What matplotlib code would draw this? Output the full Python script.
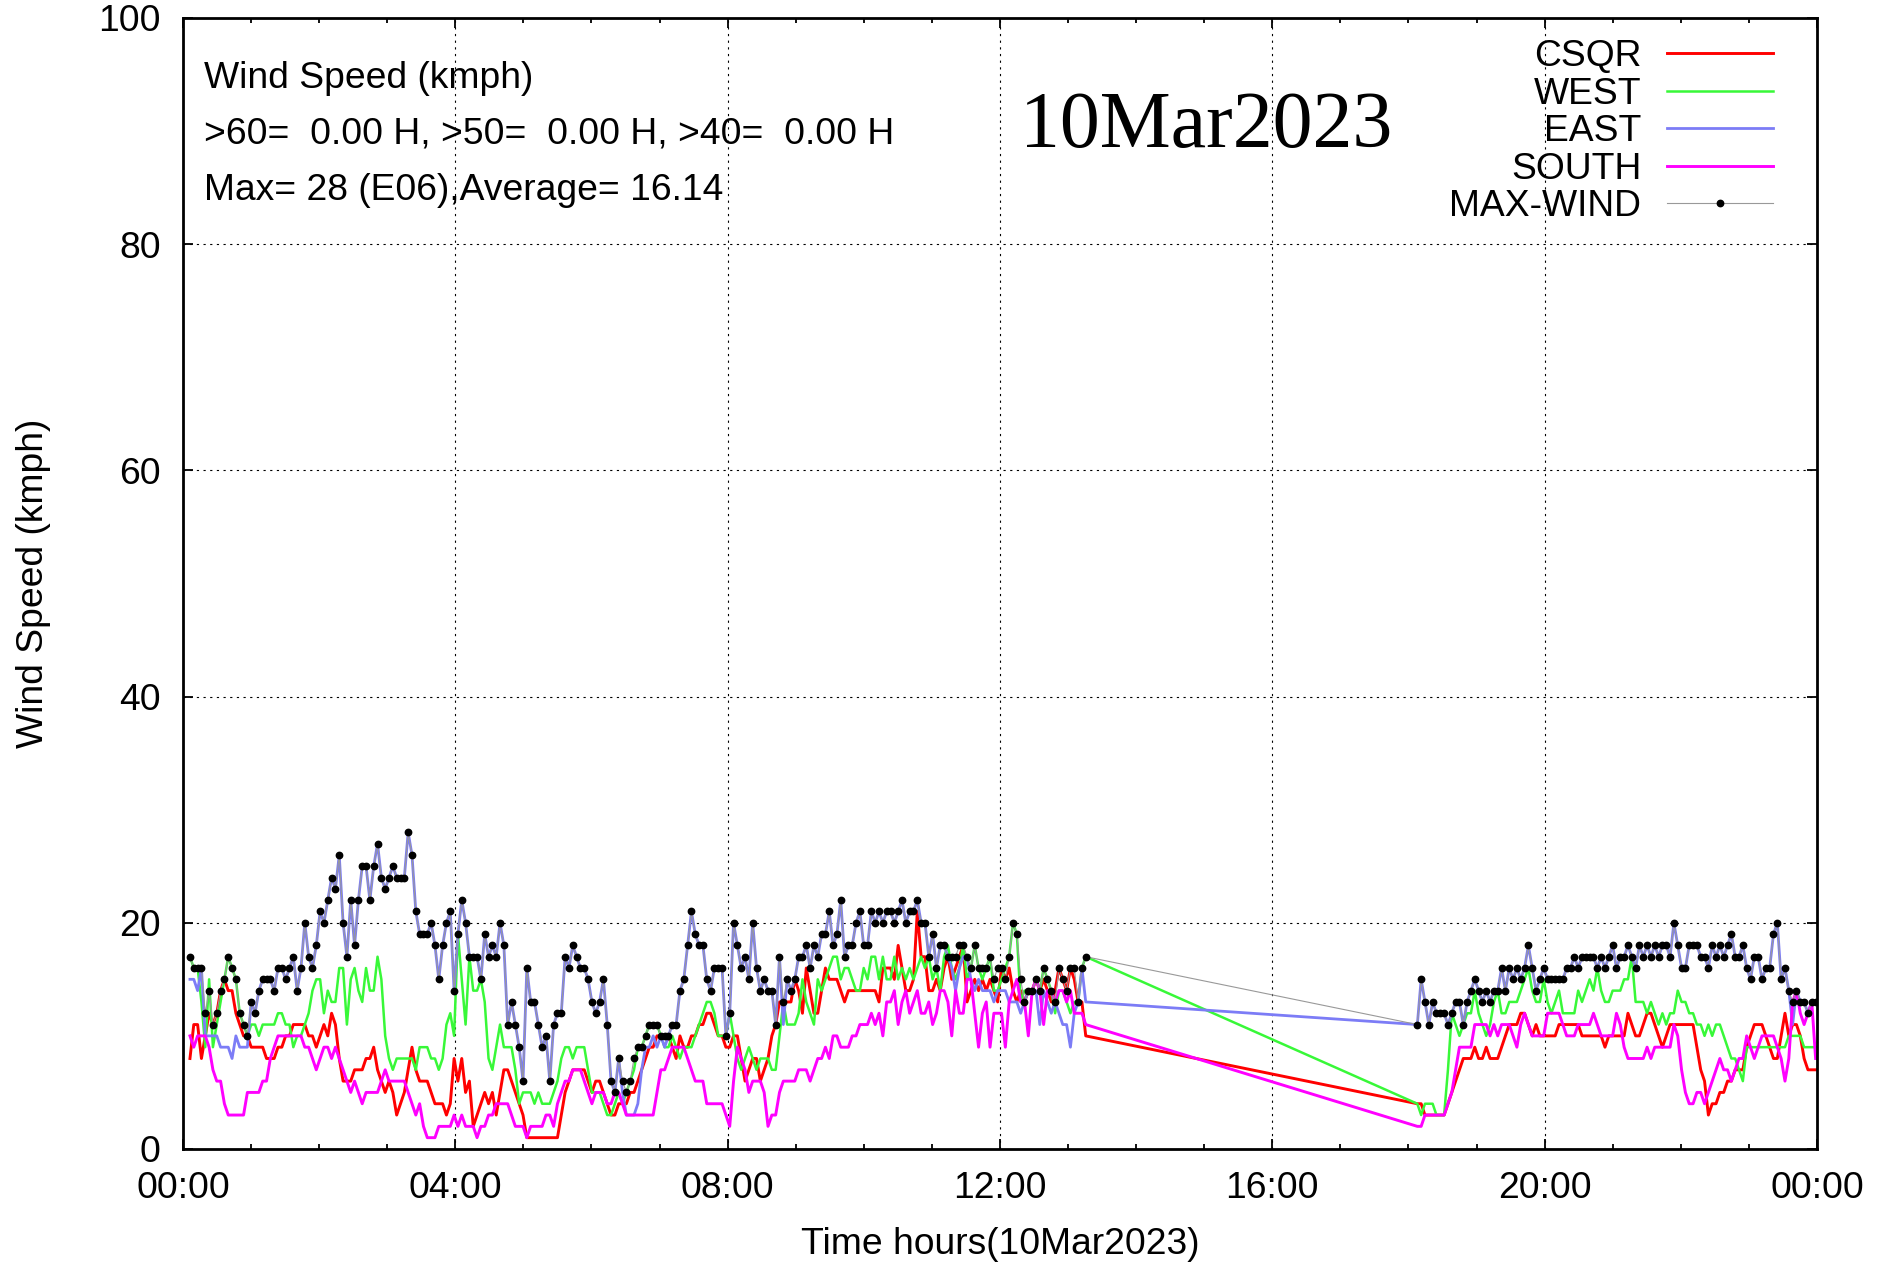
import numpy as np
import matplotlib.pyplot as plt
from matplotlib.ticker import MultipleLocator

# Samples roughly every 3.4 minutes, two blocks (morning until ~13:15, evening from ~18:08)
seg1_start, seg1_end = 0.103, 13.26
seg2_start, seg2_end = 18.13, 23.98

max1 = [17,16,16,16,12,14,11,12,14,15, 17,16,15,12,11,10,13,12,14,15,
        15,15,14,16,16,15,16,17,14,16, 20,17,16,18,21,20,22,24,23,26,
        20,17,22,18,22,25,25,22,25,27, 24,
        23,24,25,24,24,24,28,26,21,19, 19,19,20,18,15,18,20,21,14,19,
        22,20,17,17,17,15,19,17,18,17, 20,18,11,13,11,9,6,16,13,13,
        11,9,10,6,11,12,12,17,16,
        18,17,16,16,15,13,12,13,15,11, 6,5,8,6,5,6,8,9,9,10,
        11,11,11,10,10,10,11,11,14,15, 18,21,19,18,18,15,14,16,16,16,
        10,12,20,18,16,17,15,20,16,
        14,15,14,14,11,17,13,15,14,15, 17,17,18,16,18,17,19,19,21,18,
        19,22,17,18,18,20,21,18,18,21, 20,21,20,21,21,20,21,22,20,21,
        21,22,20,20,17,19,16,18,18,17,
        17,17,18,18,17,16,18,16,16,16, 17,15,16,16,15,17,20,19,15,13,
        14,14,15,14,16,15,14,13,16,15, 14,16,16,13,16,17]
csqr1 = [8,11,11,8,10,12,11,12,14,15, 14,14,12,11,10,10,9,9,9,9,
         8,8,8,9,9,10,10,11,11,11, 11,10,10,9,10,11,10,12,11,8,
         6,6,6,7,7,7,8,8,9,7, 6,
         5,6,5,3,4,5,7,9,7,6, 6,6,5,4,4,4,3,4,8,6,
         8,5,6,2,3,4,5,4,5,3, 5,7,7,6,5,4,3,1,1,1,
         1,1,1,1,1,1,3,5,6,
         7,7,7,7,6,5,6,6,5,4, 3,3,4,4,4,5,5,6,7,8,
         9,9,10,10,10,10,9,8,10,9, 9,10,10,11,11,12,12,11,10,10,
         9,9,10,10,8,6,7,8,8,
         6,7,8,10,11,13,13,13,13,15, 14,12,16,14,12,12,14,16,15,15,
         15,14,13,14,14,14,14,14,14,14, 14,13,16,16,16,15,18,16,14,14,
         15,21,17,17,14,14,15,14,16,17,
         15,16,17,18,13,14,15,14,15,14, 15,14,13,16,15,16,14,13,14,13,
         14,14,15,14,15,14,13,14,16,15, 14,16,15,13,13,10]
west1 = [17,16,16,13,9,15,9,11,13,15, 17,16,15,12,11,10,11,11,10,11,
         11,11,11,12,12,11,11,9,10,10, 11,12,14,15,15,12,14,13,13,16,
         16,11,15,16,14,13,16,14,14,17, 15,
         10,8,7,8,8,8,8,8,7,9, 9,9,8,8,7,8,11,12,10,19,
         15,11,17,14,14,15,13,8,7,9, 11,9,9,9,7,4,5,5,5,4,
         5,4,4,4,5,6,8,9,9,
         8,9,9,9,7,5,5,5,4,3, 3,4,5,4,5,6,7,9,9,10,
         11,11,11,10,9,9,10,9,8,9, 9,9,10,11,12,13,13,12,10,10,
         10,12,10,8,7,8,9,8,7,
         8,8,8,7,7,10,13,11,11,11, 12,15,13,12,11,15,14,15,16,17,
         17,15,16,16,15,14,14,16,15,17, 17,15,17,15,15,17,15,16,15,16,
         15,16,17,16,17,15,16,14,17,18,
         16,15,16,18,15,16,18,16,15,16, 17,14,14,15,16,17,20,19,13,14,
         14,14,15,14,16,15,14,12,14,14, 13,12,13,13,16,17]
east1 = [15,15,14,16,10,10,10,10,9,9, 9,8,10,9,9,9,13,12,14,15,
         15,15,14,16,16,15,16,17,14,16, 20,17,16,18,21,20,22,24,23,26,
         20,17,22,18,22,25,25,22,25,27, 24,
         23,24,25,24,24,24,28,26,21,19, 19,19,20,18,15,18,20,21,14,19,
         22,20,17,17,17,15,19,17,18,17, 20,18,11,13,11,9,6,16,13,13,
         11,9,10,6,11,12,12,17,16,
         18,17,16,16,15,13,12,13,15,11, 6,5,8,5,3,3,3,4,7,9,
         9,10,9,10,9,10,11,11,14,15, 18,21,19,18,18,15,14,16,16,16,
         10,12,20,18,16,17,15,20,16,
         14,15,14,14,11,17,11,15,14,15, 17,17,18,16,18,17,19,19,21,18,
         19,22,17,18,18,20,21,18,18,21, 20,21,20,21,21,20,21,22,20,21,
         21,22,20,20,17,19,16,18,18,17,
         16,14,16,17,17,15,14,15,14,14, 14,13,14,14,14,13,13,13,12,13,
         14,14,14,11,14,13,12,13,12,11, 11,9,12,13,16,13]
south1 = [10,9,10,10,10,9,7,6,6,4, 3,3,3,3,3,5,5,5,5,6,
          6,8,9,10,10,10,10,10,10,10, 9,9,8,7,8,9,9,8,9,8,
          7,6,5,6,5,4,5,5,5,5, 6,
          7,6,6,6,6,6,5,4,3,4, 2,1,1,1,2,2,2,2,3,2,
          3,2,2,2,1,2,2,3,3,4, 4,4,4,3,2,2,2,1,2,2,
          2,2,3,3,2,4,5,6,6,
          7,7,7,6,5,4,5,5,5,4, 4,5,5,4,3,3,3,3,3,3,
          3,3,5,7,7,8,9,9,9,9, 8,7,6,6,6,4,4,4,4,4,
          3,2,6,9,8,7,5,6,6,
          6,5,2,3,3,5,6,6,6,6, 7,7,7,6,7,8,8,9,8,10,
          10,9,9,9,10,10,11,11,11,12, 11,12,10,13,13,14,11,13,14,12,
          13,14,12,12,13,11,12,14,14,13,
          10,14,12,12,15,15,12,9,12,13, 9,12,12,12,9,13,14,15,13,13,
          10,14,15,14,11,14,14,13,14,14, 13,14,12,12,12,11]

max2 = [11,15,13,11,13,12,12,12,11,12, 13,13,11,13,14,15,14,13,14,13,
        14,14,16,14,16,15,16,15,16,18, 16,14,15,16,15,15,15,15,15,16,
        16,17,16,17,17,17,17,16,17,16, 17,18,16,17,
        17,18,17,16,18,17,18,17,18,17, 18,18,17,20,18,16,16,18,18,18,
        17,17,16,18,17,18,17,18,19,17, 17,18,16,15,17,17,15,16,16,19,
        20,15,16,14,13,14,13,13,12,13,13]
csqr2 = [4,4,3,3,3,3,3,3,4,5, 6,7,8,8,8,9,8,8,9,8,
         8,8,9,10,11,11,11,12,12,11, 10,11,10,10,10,10,10,11,11,11,
         11,11,11,10,10,10,10,10,10,9, 10,10,10,10,
         10,12,11,10,10,11,12,12,11,10, 9,10,11,11,11,11,11,11,11,9,
         7,6,3,4,4,5,5,6,6,7, 7,7,9,10,11,11,11,10,9,8,
         8,10,12,10,11,11,10,8,7,7,7]
west2 = [4,3,4,4,4,3,3,3,7,12, 11,10,11,12,12,14,12,11,10,11,
         13,14,12,12,13,13,13,14,15,16, 14,13,13,15,13,12,13,14,12,12,
         12,12,14,13,14,15,14,16,14,13, 13,14,14,14,
         15,15,17,13,13,13,12,13,12,11, 12,11,12,12,14,13,13,12,12,11,
         11,10,11,10,11,11,10,9,8,8, 7,6,9,9,9,9,9,9,9,9,
         9,9,9,10,10,10,10,9,9,9,9]
east2 = [11,15,13,11,13,12,12,12,11,12, 13,13,11,13,14,15,14,13,14,13,
         14,14,16,14,16,15,16,15,16,18, 16,14,15,16,15,15,15,15,15,16,
         16,17,16,17,17,17,17,16,17,16, 17,18,16,17,
         17,18,17,16,18,17,18,17,18,17, 18,18,17,20,18,16,16,18,18,18,
         17,17,16,18,17,18,17,18,19,17, 17,18,16,15,17,17,15,16,16,19,
         20,15,16,14,11,14,13,13,12,13,13]
south2 = [2,2,3,3,3,3,3,3,4,5, 7,9,9,9,9,11,11,11,11,10,
          11,10,11,11,11,10,9,11,12,11, 10,10,10,10,12,12,12,12,11,10,
          10,10,11,11,11,11,12,11,10,10, 10,10,12,11,
          9,8,8,8,8,8,9,8,9,9, 9,9,9,11,10,7,5,4,4,5,
          5,4,5,6,7,8,7,7,6,7, 8,8,10,9,8,9,10,10,10,10,
          9,8,6,8,13,14,12,11,12,13,8]

info_lines = ["Wind Speed (kmph)",
              ">60=  0.00 H, >50=  0.00 H, >40=  0.00 H",
              "Max= 28 (E06),Average= 16.14"]
day = "10Mar2023"
hour_labels = ["00:00", "04:00", "08:00", "12:00", "16:00", "20:00", "00:00"]

hours = np.concatenate([np.linspace(seg1_start, seg1_end, len(max1)),
                        np.linspace(seg2_start, seg2_end, len(max2))])
csqr = csqr1 + csqr2
west = west1 + west2
east = east1 + east2
south = south1 + south2
maxw = max1 + max2

plt.rcParams['font.family'] = ['Liberation Sans', 'DejaVu Sans']
fs = 26.8

fig = plt.figure(figsize=(18.86, 12.64), dpi=100)
ax = fig.add_axes([0.0970, 0.0910, 0.8664, 0.8948])

ax.plot(hours, csqr, color='#ff0000', lw=2.1, label='CSQR')
ax.plot(hours, west, color='#38f838', lw=1.8, label='WEST')
ax.plot(hours, east, color='#7c7cf6', lw=2.0, label='EAST')
ax.plot(hours, south, color='#ff00ff', lw=2.1, label='SOUTH')
ax.plot(hours, maxw, color='#999999', lw=0.8, marker='o', ms=4.6,
        mfc='black', mec='black', label='MAX-WIND')

ax.set_xlim(0, 24)
ax.set_ylim(0, 100)
ax.xaxis.set_major_locator(MultipleLocator(4))
ax.xaxis.set_minor_locator(MultipleLocator(1))
ax.yaxis.set_major_locator(MultipleLocator(20))
ax.set_xticks(np.arange(0, 25, 4))
ax.set_xticklabels(hour_labels)
ax.tick_params(which='both', direction='in', top=True, right=True, width=1.3, labelsize=fs)
ax.tick_params(which='major', length=7, pad=16)
ax.tick_params(which='minor', length=3.5)
for s in ax.spines.values():
    s.set_linewidth(2)

ax.grid(True, which='major', color='black', lw=0.8, linestyle=(0, (2, 4)))

ax.set_xlabel("Time hours(" + day + ")", fontsize=fs, labelpad=15)
ax.set_ylabel("Wind Speed (kmph)", fontsize=fs, labelpad=34)

for i, line in enumerate(info_lines):
    ax.text(0.0129, 0.9469 - i * 0.0498, line, transform=ax.transAxes,
            fontsize=fs, va='center', ha='left')

ax.text(0.5123, 0.886, day, transform=ax.transAxes, fontsize=57.5,
        family='Liberation Serif', va='baseline', ha='left')

ax.legend(loc='upper right', bbox_to_anchor=(0.973, 0.981), frameon=False,
          fontsize=fs, markerfirst=False, numpoints=1, handlelength=2.85,
          handletextpad=0.68, labelspacing=0.065, borderaxespad=0, borderpad=0)

fig.savefig("out.png", dpi=100)
